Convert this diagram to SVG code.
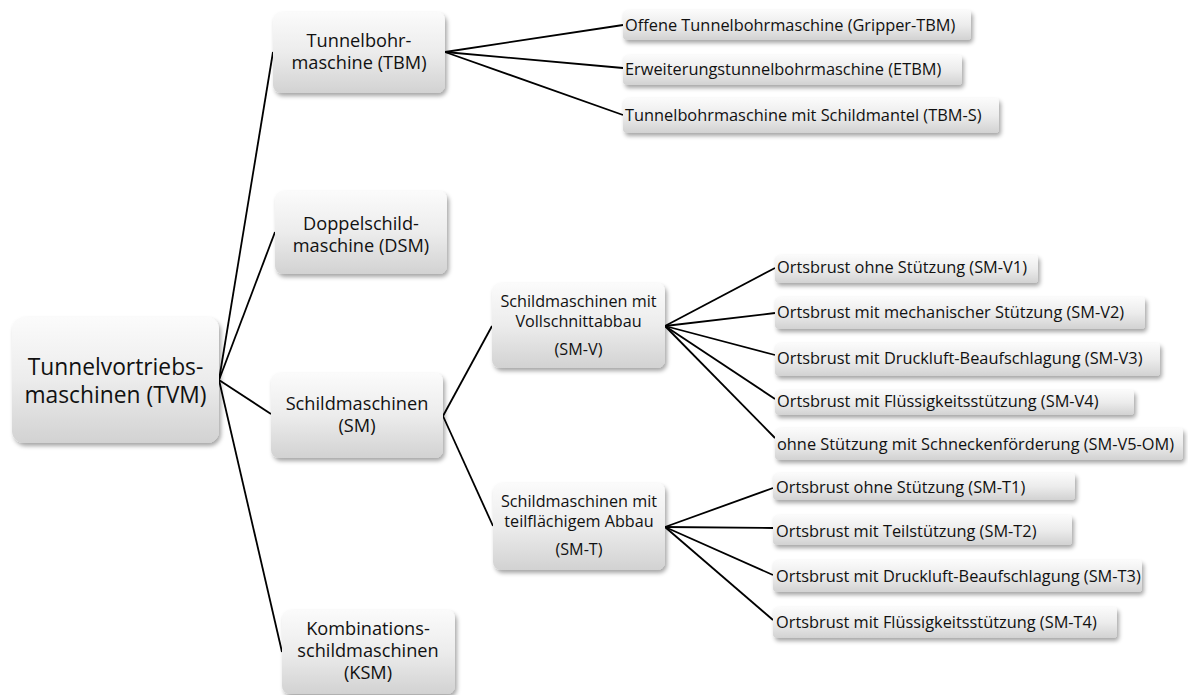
<svg xmlns="http://www.w3.org/2000/svg" width="1188" height="695" viewBox="0 0 1188 695">
<defs>
<linearGradient id="g" x1="0" y1="0" x2="0" y2="1">
<stop offset="0" stop-color="#fbfbfb"/>
<stop offset="0.5" stop-color="#ececec"/>
<stop offset="1" stop-color="#d2d2d2"/>
</linearGradient>
<filter id="sh" x="-10%" y="-20%" width="125%" height="160%">
<feDropShadow dx="2" dy="3" stdDeviation="2" flood-color="#000" flood-opacity="0.35"/>
</filter>
<style>
.box{fill:url(#g);filter:url(#sh);}
.t{font-family:"Open Sans","Noto Sans","Liberation Sans",sans-serif;fill:#111;}
.c{text-anchor:middle;}
.root{font-size:22.8px;}
.l1{font-size:18.2px;}
.l2{font-size:16.2px;}
.leaf{font-size:16.35px;}
.con line{stroke:#000;stroke-width:1.8;fill:none;}
</style>
</defs>
<rect width="1188" height="695" fill="#fff"/>
<g class="con" id="connectors">
<line x1="219" y1="380" x2="273" y2="52"/>
<line x1="219" y1="380" x2="275" y2="232"/>
<line x1="219" y1="380" x2="271" y2="414"/>
<line x1="219" y1="380" x2="282" y2="652"/>
<line x1="445" y1="52" x2="623" y2="25"/>
<line x1="445" y1="52" x2="623" y2="68"/>
<line x1="445" y1="52" x2="623" y2="115"/>
<line x1="443" y1="416" x2="492" y2="326"/>
<line x1="443" y1="416" x2="493" y2="526"/>
<line x1="665" y1="326" x2="775" y2="268"/>
<line x1="665" y1="326" x2="775" y2="313"/>
<line x1="665" y1="326" x2="775" y2="355"/>
<line x1="665" y1="326" x2="775" y2="399"/>
<line x1="665" y1="326" x2="775" y2="438"/>
<line x1="665" y1="527" x2="773" y2="488"/>
<line x1="665" y1="527" x2="773" y2="528"/>
<line x1="665" y1="527" x2="773" y2="575"/>
<line x1="665" y1="527" x2="773" y2="620"/>
</g>
<g id="tvm">
<rect class="box" x="12" y="317" width="207" height="126" rx="12"/>
<text class="t c root" x="115.5" y="375">Tunnelvortriebs-</text>
<text class="t c root" x="115.5" y="403">maschinen (TVM)</text>
</g>
<g id="tbm">
<rect class="box" x="273" y="12" width="172" height="81" rx="8"/>
<text class="t c l1" x="359" y="47">Tunnelbohr-</text>
<text class="t c l1" x="359" y="69">maschine (TBM)</text>
</g>
<g id="dsm">
<rect class="box" x="275" y="191" width="172" height="83" rx="8"/>
<text class="t c l1" x="361" y="230">Doppelschild-</text>
<text class="t c l1" x="361" y="252">maschine (DSM)</text>
</g>
<g id="sm">
<rect class="box" x="271" y="373" width="172" height="85" rx="8"/>
<text class="t c l1" x="357" y="410">Schildmaschinen</text>
<text class="t c l1" x="357" y="432">(SM)</text>
</g>
<g id="ksm">
<rect class="box" x="282" y="610" width="173" height="84" rx="8"/>
<text class="t c l1" x="368" y="635">Kombinations-</text>
<text class="t c l1" x="368" y="657">schildmaschinen</text>
<text class="t c l1" x="368" y="679">(KSM)</text>
</g>
<g id="smv">
<rect class="box" x="492" y="283" width="173" height="85" rx="8"/>
<text class="t c l2" x="578.5" y="307">Schildmaschinen mit</text>
<text class="t c l2" x="578.5" y="327">Vollschnittabbau</text>
<text class="t c l2" x="578.5" y="355">(SM-V)</text>
</g>
<g id="smt">
<rect class="box" x="493" y="483" width="172" height="87" rx="8"/>
<text class="t c l2" x="579" y="507">Schildmaschinen mit</text>
<text class="t c l2" x="579" y="527">teilflächigem Abbau</text>
<text class="t c l2" x="579" y="555">(SM-T)</text>
</g>
<g id="tbm1">
<rect class="box" x="623" y="10" width="348" height="30" rx="4"/>
<text class="t leaf" x="625" y="31">Offene Tunnelbohrmaschine (Gripper-TBM)</text>
</g>
<g id="tbm2">
<rect class="box" x="623" y="55" width="339" height="30" rx="4"/>
<text class="t leaf" x="625" y="75">Erweiterungstunnelbohrmaschine (ETBM)</text>
</g>
<g id="tbm3">
<rect class="box" x="623" y="98" width="376" height="35" rx="4"/>
<text class="t leaf" x="625" y="121">Tunnelbohrmaschine mit Schildmantel (TBM-S)</text>
</g>
<g id="smv1">
<rect class="box" x="775" y="255" width="263" height="28" rx="4"/>
<text class="t leaf" x="777" y="273">Ortsbrust ohne Stützung (SM-V1)</text>
</g>
<g id="smv2">
<rect class="box" x="775" y="297" width="370" height="32" rx="4"/>
<text class="t leaf" x="777" y="318">Ortsbrust mit mechanischer Stützung (SM-V2)</text>
</g>
<g id="smv3">
<rect class="box" x="775" y="343" width="385" height="33" rx="4"/>
<text class="t leaf" x="777" y="364">Ortsbrust mit Druckluft-Beaufschlagung (SM-V3)</text>
</g>
<g id="smv4">
<rect class="box" x="775" y="390" width="359" height="25" rx="4"/>
<text class="t leaf" x="777" y="407">Ortsbrust mit Flüssigkeitsstützung (SM-V4)</text>
</g>
<g id="smv5">
<rect class="box" x="775" y="428" width="408" height="32" rx="4"/>
<text class="t leaf" x="777" y="450">ohne Stützung mit Schneckenförderung (SM-V5-OM)</text>
</g>
<g id="smt1">
<rect class="box" x="773" y="473" width="302" height="27" rx="4"/>
<text class="t leaf" x="776" y="493">Ortsbrust ohne Stützung (SM-T1)</text>
</g>
<g id="smt2">
<rect class="box" x="773" y="515" width="299" height="30" rx="4"/>
<text class="t leaf" x="776" y="537">Ortsbrust mit Teilstützung (SM-T2)</text>
</g>
<g id="smt3">
<rect class="box" x="773" y="560" width="369" height="32" rx="4"/>
<text class="t leaf" x="776" y="582">Ortsbrust mit Druckluft-Beaufschlagung (SM-T3)</text>
</g>
<g id="smt4">
<rect class="box" x="773" y="607" width="344" height="31" rx="4"/>
<text class="t leaf" x="776" y="628">Ortsbrust mit Flüssigkeitsstützung (SM-T4)</text>
</g>
</svg>
